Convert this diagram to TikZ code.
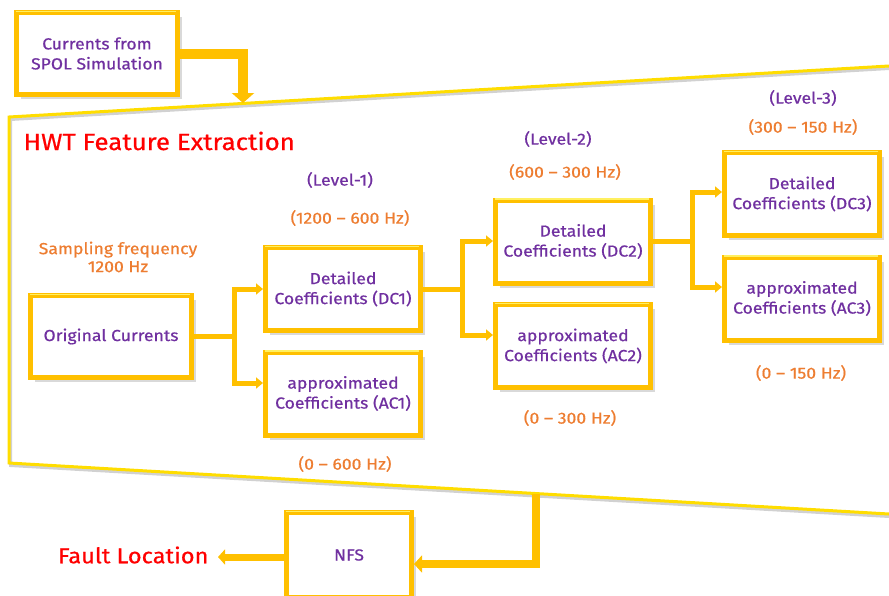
\documentclass[tikz,border=0pt]{standalone}
\usepackage{fontspec}
\setmainfont{Fira Sans}[FakeStretch=1.1, FakeBold=0.6]
\usetikzlibrary{arrows.meta,shadows}
\definecolor{boxy}{HTML}{FFC000}
\definecolor{hiy}{HTML}{FFF060}
\definecolor{outy}{HTML}{FFDD00}
\definecolor{txtpurple}{HTML}{7030A0}
\definecolor{txtorange}{HTML}{ED7D31}
\definecolor{txtred}{HTML}{FF0000}
\begin{document}
\begin{tikzpicture}[x=1pt,y=-1pt,
  cbox/.style={draw=boxy, line width=5pt, fill=white, align=center, text=txtpurple,
    font=\fontsize{16}{20}\selectfont, inner sep=2pt,
    drop shadow={shadow xshift=4.5pt,shadow yshift=-4.5pt,opacity=.3}},
  dbox/.style={cbox, minimum width=155pt, minimum height=83pt},
  hl/.style={draw=hiy, line width=1.5pt},
  lvl/.style={text=txtpurple, font=\fontsize{16}{18}\selectfont},
  frq/.style={text=txtorange, font=\fontsize{16}{20}\selectfont, align=center},
  conn/.style={draw=boxy, line width=5pt, line join=miter},
  carr/.style={conn, -{Triangle[length=7pt,width=11pt]}},
  fat/.style={draw=boxy, line width=10pt, line join=miter, -{Triangle[length=10pt,width=22pt]}},
  fat2/.style={draw=boxy, line width=8pt, line join=miter, -{Triangle[length=8pt,width=17pt]}},
  outl/.style={draw=outy, line width=3pt, line join=miter},
  shad/.style={draw=black, opacity=.18, line width=3pt}
]
\useasboundingbox (0,0) rectangle (889,595);

% big trapezoid outline
\draw[shad] (889,68.5) -- (10.5,119.5) -- (10.5,465.5) -- (889,516.5);
\draw[outl] (889,66) -- (9,117) -- (9,463) -- (889,514);
\coordinate (in1) at (243,103);
\coordinate (out1) at (536,494);

% boxes
\node[cbox, minimum width=161pt, minimum height=82pt] (cur) at (97,53.5) {Currents from\\SPOL Simulation};
\node[cbox, minimum width=161pt, minimum height=82pt] (orig) at (111,336.5) {Original Currents};
\node[dbox] (dc1) at (343,289) {Detailed\\Coefficients (DC1)};
\node[dbox] (ac1) at (343,393.5) {approximated\\Coefficients (AC1)};
\node[dbox] (dc2) at (573,241.5) {Detailed\\Coefficients (DC2)};
\node[dbox] (ac2) at (573,346) {approximated\\Coefficients (AC2)};
\node[dbox] (dc3) at (802,194) {Detailed\\Coefficients (DC3)};
\node[dbox] (ac3) at (802,298.5) {approximated\\Coefficients (AC3)};
\node[cbox, minimum width=125pt, minimum height=85pt] (nfs) at (349,555) {NFS};

% highlights on top edges
\foreach \n in {cur,orig,dc1,ac1,dc2,ac2,dc3,ac3,nfs}{
  \draw[hl] ([xshift=2pt,yshift=-1.3pt]\n.north west) -- ([xshift=-4pt,yshift=-1.3pt]\n.north east);
}

% labels
\node[anchor=west, text=txtred, font=\fontsize{23.5}{26}\selectfont] (title) at (20,141) {HWT Feature Extraction};
\node[frq] (samp) at (118,257) {Sampling frequency\\[-2pt]1200 Hz};
\node[lvl] (l1) at (340,180) {(Level-1)};
\node[frq] (f1a) at (350,218) {(1200 – 600 Hz)};
\node[frq] (f1b) at (345,464) {(0 – 600 Hz)};
\node[lvl] (l2) at (558,139) {(Level-2)};
\node[frq] (f2a) at (565,172) {(600 – 300 Hz)};
\node[frq] (f2b) at (570,418) {(0 – 300 Hz)};
\node[lvl] (l3) at (803,98) {(Level-3)};
\node[frq] (f3a) at (803,127) {(300 – 150 Hz)};
\node[frq] (f3b) at (801,373) {(0 – 150 Hz)};
\node[text=txtred, font=\fontsize{21.5}{25}\selectfont, anchor=east] (fault) at (212,555) {Fault Location};

% connectors level 1
\draw[conn] (orig.east) -- ++(40,0) coordinate (s1);
\draw[carr] (s1) |- (dc1.west);
\draw[carr] (s1) |- (ac1.west |- 0,383);
% level 2
\draw[conn] (dc1.east) -- ++(39,0) coordinate (s2);
\draw[carr] (s2) |- (dc2.west |- 0,241);
\draw[carr] (s2) |- (ac2.west |- 0,335);
% level 3
\draw[conn] (dc2.east) -- ++(39,0) coordinate (s3);
\draw[carr] (s3) |- (dc3.west |- 0,192);
\draw[carr] (s3) |- (ac3.west |- 0,287);

% main arrows
\draw[fat] (cur.east) -| (in1);
\draw[fat2] (out1) |- ([yshift=-9pt]nfs.east);
\draw[draw=boxy, line width=7pt, -{Triangle[length=7pt,width=15pt]}] ([yshift=-2pt]nfs.west) -- ([xshift=6pt,yshift=-2pt]fault.east);
\end{tikzpicture}
\end{document}
